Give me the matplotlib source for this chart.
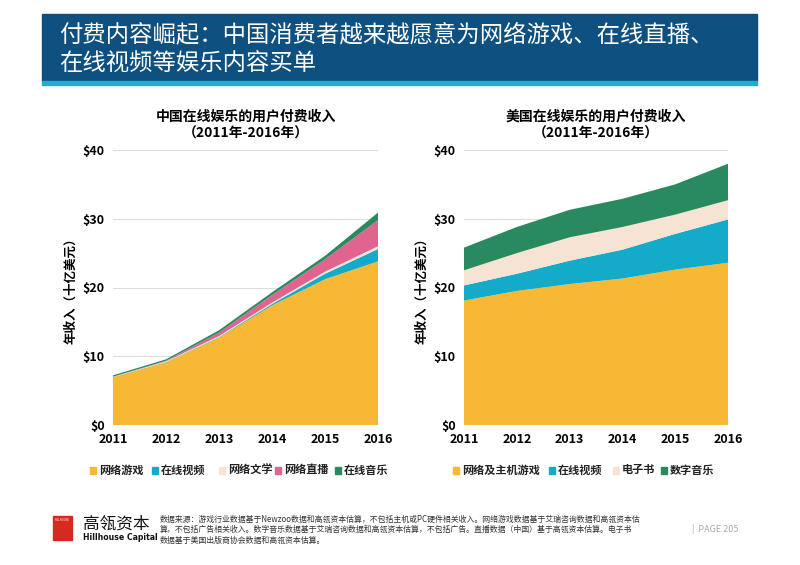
import matplotlib
matplotlib.use("Agg")
import matplotlib.pyplot as plt
from matplotlib.patches import Rectangle

plt.rcParams['font.family'] = ['Noto Sans CJK SC', 'DejaVu Sans']

years = [2011, 2012, 2013, 2014, 2015, 2016]

# China (billion USD)
cn_games = [6.95, 9.1, 12.7, 17.4, 21.2, 23.8]
cn_video = [0.02, 0.05, 0.08, 0.2, 0.8, 1.8]
cn_lit = [0.05, 0.1, 0.15, 0.2, 0.3, 0.4]
cn_live = [0.0, 0.1, 0.5, 1.1, 1.8, 3.8]
cn_music = [0.2, 0.2, 0.35, 0.4, 0.5, 1.1]
cn_labels = ['网络游戏', '在线视频', '网络文学', '网络直播', '在线音乐']

# US (billion USD)
us_games = [18.1, 19.5, 20.5, 21.3, 22.6, 23.6]
us_video = [2.2, 2.5, 3.4, 4.2, 5.2, 6.3]
us_ebook = [2.2, 3.0, 3.4, 3.3, 2.8, 2.8]
us_music = [3.3, 3.8, 4.0, 4.1, 4.4, 5.3]
us_labels = ['网络及主机游戏', '在线视频', '电子书', '数字音乐']

yticks = [0, 10, 20, 30, 40]
ytick_labels = ['$0', '$10', '$20', '$30', '$40']

C_YEL = '#f7b935'
C_TEAL = '#14abc8'
C_BEIGE = '#f6e3d3'
C_PINK = '#e0648f'
C_GREEN = '#2a8a5f'

fig = plt.figure(figsize=(8, 5.65), dpi=100)
W, H = 800, 565

def fx(px): return px / W
def fy(py): return 1 - py / H

# Banner
fig.patches.append(Rectangle((fx(42), fy(81)), fx(757) - fx(42), fy(14) - fy(81),
                             transform=fig.transFigure, color='#0e5080', zorder=0))
fig.patches.append(Rectangle((fx(42), fy(84.5)), fx(757) - fx(42), fy(81) - fy(84.5),
                             transform=fig.transFigure, color='#1cb0cc', zorder=0))
fig.text(fx(59), fy(35), '付费内容崛起：中国消费者越来越愿意为网络游戏、在线直播、',
         color='white', fontsize=16.8, va='center', ha='left')
fig.text(fx(59), fy(63), '在线视频等娱乐内容买单',
         color='white', fontsize=16.8, va='center', ha='left')


def make_ax(left, right, series, colors, title):
    ax = fig.add_axes([fx(left), fy(425), fx(right) - fx(left), fy(150) - fy(425)])
    ax.stackplot(years, *series, colors=colors, linewidth=0)
    ax.set_xlim(2011, 2016)
    ax.set_ylim(0, 40)
    ax.set_yticks(yticks)
    ax.set_yticklabels(ytick_labels, fontweight='bold', fontsize=9)
    ax.set_xticks(years)
    ax.set_xticklabels([str(y) for y in years], fontweight='bold', fontsize=9)
    for s in ax.spines.values():
        s.set_visible(False)
    ax.tick_params(length=0, pad=6)
    ax.grid(axis='y', color='#dddddd', linewidth=0.8)
    ax.set_axisbelow(True)
    ax.set_ylabel('年收入（十亿美元）', fontsize=9, fontweight='bold', labelpad=4)
    ax.set_title(title + '\n（2011年-2016年）', fontsize=10, fontweight='bold',
                 linespacing=1.3, pad=9)
    return ax

ax1 = make_ax(113, 378, [cn_games, cn_video, cn_lit, cn_live, cn_music],
              [C_YEL, C_TEAL, C_BEIGE, C_PINK, C_GREEN], '中国在线娱乐的用户付费收入')
ax2 = make_ax(464, 728, [us_games, us_video, us_ebook, us_music],
              [C_YEL, C_TEAL, C_BEIGE, C_GREEN], '美国在线娱乐的用户付费收入')

# Legends (manual placement)
def legend_row(xs, labels, colors, y):
    for x, lab, c in zip(xs, labels, colors):
        fig.patches.append(Rectangle((fx(x), fy(y + 3.5)), fx(6), fy(0) - fy(6.5),
                                     transform=fig.transFigure, color=c))
        fig.text(fx(x + 9), fy(y), lab, fontsize=8, fontweight='bold',
                 va='center', ha='left', color='#222222')

legend_row([90, 152, 219, 275, 335], cn_labels,
           [C_YEL, C_TEAL, C_BEIGE, C_PINK, C_GREEN], 470)
legend_row([453, 549, 613, 661], us_labels,
           [C_YEL, C_TEAL, C_BEIGE, C_GREEN], 470)

# Footer
fig.patches.append(Rectangle((fx(53), fy(540)), fx(19), fy(516) - fy(540),
                             transform=fig.transFigure, color='#d42a22'))
fig.text(fx(62.5), fy(520), 'HILLHOUSE', fontsize=2, color='white', ha='center', va='center')
fig.text(fx(83), fy(524), '高瓴资本', fontsize=12, ha='left', va='center', color='#111111')
fig.text(fx(83), fy(538), 'Hillhouse Capital', fontsize=5.6, fontweight='bold',
         ha='left', va='center', color='#111111', family='DejaVu Sans')
src = ('数据来源：游戏行业数据基于Newzoo数据和高瓴资本估算，不包括主机或PC硬件相关收入。网络游戏数据基于艾瑞咨询数据和高瓴资本估\n'
       '算，不包括广告相关收入。数字音乐数据基于艾瑞咨询数据和高瓴资本估算，不包括广告。直播数据（中国）基于高瓴资本估算。电子书\n'
       '数据基于美国出版商协会数据和高瓴资本估算。')
fig.text(fx(160), fy(515), src, fontsize=5.7, ha='left', va='top', color='#333333',
         linespacing=1.2)
fig.text(fx(692), fy(529), '|  PAGE 205', fontsize=6.5, ha='left', va='center', color='#aaaaaa')

fig.savefig('out.png', dpi=100)
